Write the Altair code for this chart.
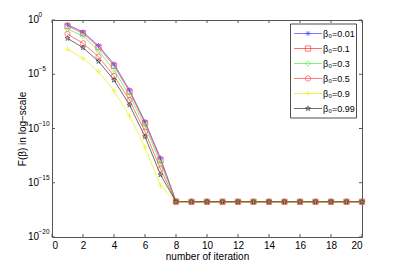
import altair as alt
import pandas as pd

iterations = list(range(1, 21))
series_labels = ["β₀=0.01", "β₀=0.1", "β₀=0.3", "β₀=0.5", "β₀=0.9", "β₀=0.99"]
series_colors = ["#3c3cff", "#ff2a2a", "#3cf03c", "#ff3c3c", "#eeee00", "#262626"]
series_shapes = [
    "M-1,0L1,0M0,-1L0,1M-0.7,-0.7L0.7,0.7M-0.7,0.7L0.7,-0.7",
    "square",
    "diamond",
    "circle",
    "M-1,0L1,0M0,-1L0,1",
    "M0,-1L0.22,-0.31L0.95,-0.31L0.36,0.12L0.59,0.81L0,0.38L-0.59,0.81L-0.36,0.12L-0.95,-0.31L-0.22,-0.31Z",
]

# log10 of F(beta), iterations 1..20
exp_001 = [-0.43, -1.10, -2.37, -4.06, -6.45, -9.37, -12.72, -16.72, -16.75, -16.75,
           -16.75, -16.75, -16.75, -16.75, -16.75, -16.75, -16.75, -16.75, -16.75, -16.75]
exp_01 = [-0.55, -1.22, -2.50, -4.22, -6.60, -9.50, -12.90, -16.73, -16.75, -16.75,
          -16.75, -16.75, -16.75, -16.75, -16.75, -16.75, -16.75, -16.75, -16.75, -16.75]
exp_03 = [-0.83, -1.47, -2.83, -4.60, -6.97, -9.77, -13.20, -16.74, -16.75, -16.75,
          -16.75, -16.75, -16.75, -16.75, -16.75, -16.75, -16.75, -16.75, -16.75, -16.75]
exp_05 = [-1.29, -2.15, -3.38, -5.16, -7.37, -10.30, -13.73, -16.75, -16.75, -16.75,
          -16.75, -16.75, -16.75, -16.75, -16.75, -16.75, -16.75, -16.75, -16.75, -16.75]
exp_09 = [-2.70, -3.53, -4.76, -6.51, -8.85, -11.73, -15.27, -16.75, -16.75, -16.75,
          -16.75, -16.75, -16.75, -16.75, -16.75, -16.75, -16.75, -16.75, -16.75, -16.75]
exp_099 = [-1.69, -2.55, -3.81, -5.53, -7.83, -10.75, -14.26, -16.75, -16.75, -16.75,
           -16.75, -16.75, -16.75, -16.75, -16.75, -16.75, -16.75, -16.75, -16.75, -16.75]

x_ticks = [0, 2, 4, 6, 8, 10, 12, 14, 16, 18, 20]
y_tick_exps = [0, -5, -10, -15, -20]
y_tick_texts = ["0", "−5", "−10", "−15", "−20"]

all_exps = [exp_001, exp_01, exp_03, exp_05, exp_09, exp_099]
rows = []
for lab, ex in zip(series_labels, all_exps):
    for it, e in zip(iterations, ex):
        rows.append({"iter": it, "F": 10 ** e, "series": lab})
df = pd.DataFrame(rows)

W, H = 310, 217
FONT = "Liberation Sans"

xscale = alt.Scale(domain=[0, 20], nice=False, zero=False)
yscale = alt.Scale(type="log", domain=[1e-20, 1], nice=False)
cscale = alt.Scale(domain=series_labels, range=series_colors)
sscale = alt.Scale(domain=series_labels, range=series_shapes)

xaxis = alt.Axis(values=x_ticks, tickSize=0, domain=False, grid=False, labelPadding=3,
                 labelOverlap=False, labelFontSize=10, labelFont=FONT, labelColor="#000",
                 title="number of iteration", titleFontSize=10, titleFont=FONT,
                 titleFontWeight="normal", titlePadding=1, titleColor="#000")
yaxis = alt.Axis(values=[10.0 ** e for e in y_tick_exps], labels=False, tickSize=0, domain=False,
                 grid=False, title="F(β) in log−scale", titleFontSize=10, titleFont=FONT,
                 titleFontWeight="normal", titlePadding=24, titleColor="#000")


def X(field):
    return alt.X(field, scale=xscale, axis=xaxis)


def Y(field):
    return alt.Y(field, scale=yscale, axis=yaxis)


base = alt.Chart(df)
lines = base.mark_line(strokeWidth=0.8, opacity=0.85).encode(
    x=X("iter:Q"), y=Y("F:Q"),
    color=alt.Color("series:N", scale=cscale, legend=None),
    detail="series:N",
    order="iter:Q",
)
points = base.mark_point(filled=False, size=28, strokeWidth=0.9).encode(
    x=X("iter:Q"), y=Y("F:Q"),
    color=alt.Color("series:N", scale=cscale, legend=None),
    shape=alt.Shape("series:N", scale=sscale, legend=None),
)

xt = pd.DataFrame({"iter": x_ticks})
yt = pd.DataFrame({"F": [10.0 ** e for e in y_tick_exps], "txt": y_tick_texts})
tick_style = dict(color="#555555", strokeWidth=1)
xb = alt.Chart(xt).mark_rule(**tick_style).encode(x=X("iter:Q"), y=alt.value(H), y2=alt.value(H - 3))
xtop = alt.Chart(xt).mark_rule(**tick_style).encode(x=X("iter:Q"), y=alt.value(0), y2=alt.value(3))
yl = alt.Chart(yt).mark_rule(**tick_style).encode(y=Y("F:Q"), x=alt.value(0), x2=alt.value(3))
yr = alt.Chart(yt).mark_rule(**tick_style).encode(y=Y("F:Q"), x=alt.value(W), x2=alt.value(W - 3))
ybase = alt.Chart(yt).mark_text(align="left", baseline="middle", fontSize=10, font=FONT, color="#000").encode(
    y=Y("F:Q"), x=alt.value(-24), text=alt.value("10"))
yexp = alt.Chart(yt).mark_text(align="left", baseline="middle", fontSize=6.5, font=FONT, dy=-5, color="#000").encode(
    y=Y("F:Q"), x=alt.value(-13.5), text="txt:N")

# legend
leg = pd.DataFrame({"series": series_labels, "idx": list(range(6))})
lbase = alt.Chart(leg).transform_calculate(py="13.5 + datum.idx * 15")
lbox = alt.Chart(pd.DataFrame({"a": [0]})).mark_rect(fill="white", stroke="#222", strokeWidth=0.8).encode(
    x=alt.value(238.5), x2=alt.value(304.5), y=alt.value(4), y2=alt.value(98))
llines = lbase.mark_rule(strokeWidth=0.8, opacity=0.85).encode(
    x=alt.value(242), x2=alt.value(270),
    y=alt.Y("py:Q", scale=None),
    color=alt.Color("series:N", scale=cscale, legend=None))
lpts = lbase.mark_point(filled=False, size=28, strokeWidth=0.9).encode(
    x=alt.value(256), y=alt.Y("py:Q", scale=None),
    color=alt.Color("series:N", scale=cscale, legend=None),
    shape=alt.Shape("series:N", scale=sscale, legend=None))
ltext = lbase.mark_text(align="left", baseline="middle", fontSize=9, font=FONT, color="#000").encode(
    x=alt.value(271), y=alt.Y("py:Q", scale=None), text="series:N")

chart = alt.layer(
    lines, points, xb, xtop, yl, yr, ybase, yexp, lbox, llines, lpts, ltext
).properties(
    width=W, height=H,
    autosize=alt.AutoSizeParams(type="none"),
    padding={"left": 44, "top": 12, "right": 29, "bottom": 31},
).configure_view(stroke="#555555", strokeWidth=1)

chart.save("out.html", embed_options={"renderer": "svg", "actions": False})
